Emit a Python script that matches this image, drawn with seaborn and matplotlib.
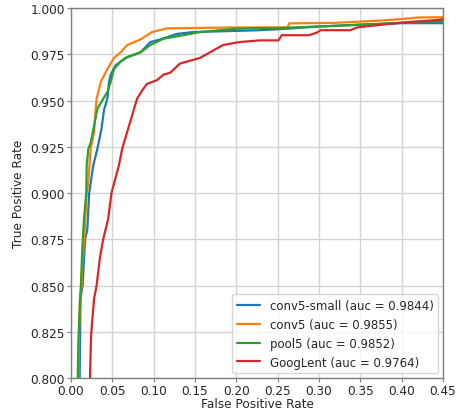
import matplotlib
matplotlib.use("Agg")
import matplotlib.pyplot as plt
import seaborn as sns

# ---- data ----
labels = ["conv5-small (auc = 0.9844)", "conv5 (auc = 0.9855)",
          "pool5 (auc = 0.9852)", "GoogLent (auc = 0.9764)"]

fpr_small = [0.0095, 0.0105, 0.0115, 0.0141, 0.017, 0.0197, 0.022, 0.027, 0.032, 0.037,
             0.040, 0.044, 0.046, 0.048, 0.054, 0.066, 0.084, 0.096, 0.108, 0.128,
             0.148, 0.228, 0.25, 0.30, 0.35, 0.40, 0.45]
tpr_small = [0.78, 0.80, 0.843, 0.85, 0.875, 0.88, 0.90, 0.915, 0.924, 0.935,
             0.945, 0.951, 0.96, 0.964, 0.969, 0.973, 0.976, 0.9816, 0.983, 0.986,
             0.987, 0.988, 0.9885, 0.990, 0.991, 0.9918, 0.9918]

fpr_conv5 = [0.008, 0.0089, 0.0097, 0.011, 0.013, 0.0135, 0.0165, 0.019, 0.0206, 0.0238,
             0.028, 0.030, 0.031, 0.036, 0.044, 0.052, 0.060, 0.068, 0.084, 0.098,
             0.116, 0.15, 0.2, 0.262, 0.264, 0.32, 0.37, 0.40, 0.42, 0.45]
tpr_conv5 = [0.78, 0.80, 0.825, 0.843, 0.85, 0.86, 0.879, 0.9, 0.904, 0.924,
             0.933, 0.946, 0.951, 0.96, 0.967, 0.973, 0.976, 0.98, 0.983, 0.987,
             0.989, 0.9892, 0.9895, 0.9895, 0.9917, 0.992, 0.9931, 0.994, 0.9949, 0.995]

fpr_pool5 = [0.007, 0.0081, 0.009, 0.011, 0.012, 0.0137, 0.0157, 0.0185, 0.019, 0.021,
             0.024, 0.032, 0.044, 0.048, 0.052, 0.060, 0.068, 0.084, 0.096, 0.112,
             0.132, 0.156, 0.18, 0.2, 0.228, 0.25, 0.30, 0.35, 0.40, 0.45]
tpr_pool5 = [0.78, 0.80, 0.82, 0.843, 0.85, 0.87, 0.886, 0.90, 0.915, 0.9238,
             0.9276, 0.9456, 0.9546, 0.96, 0.967, 0.971, 0.9735, 0.976, 0.98, 0.9834,
             0.985, 0.987, 0.988, 0.9888, 0.9892, 0.9892, 0.990, 0.991, 0.992, 0.993]

fpr_goog = [0.022, 0.023, 0.0242, 0.0253, 0.028, 0.031, 0.035, 0.039, 0.045, 0.049,
            0.052, 0.058, 0.062, 0.068, 0.074, 0.080, 0.087, 0.092, 0.104, 0.112,
            0.12, 0.132, 0.148, 0.156, 0.168, 0.184, 0.204, 0.228, 0.251, 0.255,
            0.288, 0.298, 0.302, 0.338, 0.346, 0.366, 0.387, 0.411, 0.443, 0.45]
tpr_goog = [0.78, 0.80, 0.8216, 0.829, 0.843, 0.85, 0.865, 0.875, 0.886, 0.90,
            0.905, 0.915, 0.924, 0.933, 0.942, 0.951, 0.956, 0.959, 0.961, 0.964,
            0.965, 0.970, 0.972, 0.973, 0.976, 0.98, 0.9816, 0.9825, 0.9825, 0.9853,
            0.9853, 0.9868, 0.988, 0.988, 0.9895, 0.9905, 0.9915, 0.9925, 0.9935, 0.994]

series = [(fpr_small, tpr_small), (fpr_conv5, tpr_conv5),
          (fpr_pool5, tpr_pool5), (fpr_goog, tpr_goog)]
colors = sns.color_palette("tab10", 4)

sns.set_style("whitegrid", {
    "axes.edgecolor": "0.5",
    "grid.color": "0.83",
    "xtick.bottom": True,
    "ytick.left": True,
    "xtick.color": "0.15",
    "ytick.color": "0.15",
})
plt.rcParams["font.family"] = ["DejaVu Sans"]
FS = 8.7
plt.rcParams["font.size"] = FS

fig = plt.figure(figsize=(4.58, 4.10), dpi=100)
ax = fig.add_axes([0.155, 0.0756, 0.812, 0.9024])

for (x, y), lab, c in zip(series, labels, colors):
    sns.lineplot(x=x, y=y, sort=False, estimator=None, ax=ax, color=c,
                 linewidth=1.6, label=lab)

ax.set_xlim(0.0, 0.45)
ax.set_ylim(0.8, 1.0)
ax.set_xticks([0.0, 0.05, 0.10, 0.15, 0.20, 0.25, 0.30, 0.35, 0.40, 0.45])
ax.set_xticklabels(["0.00", "0.05", "0.10", "0.15", "0.20", "0.25", "0.30", "0.35", "0.40", "0.45"])
ax.set_yticks([0.8, 0.825, 0.85, 0.875, 0.9, 0.925, 0.95, 0.975, 1.0])
ax.set_yticklabels(["0.800", "0.825", "0.850", "0.875", "0.900", "0.925", "0.950", "0.975", "1.000"])
ax.tick_params(axis="both", length=3, width=0.8, color="0.5", labelsize=FS, pad=1.5)
ax.grid(True, linewidth=1.0)
for s in ax.spines.values():
    s.set_color("0.5")
    s.set_linewidth(1.0)
ax.set_xlabel("False Positive Rate", fontsize=FS, labelpad=0)
ax.set_ylabel("True Positive Rate", fontsize=FS, labelpad=4)
leg = ax.legend(loc="lower right", fontsize=8.5, frameon=True, fancybox=True,
                framealpha=0.8, edgecolor="0.8", borderaxespad=0.4)

fig.savefig("out.png", dpi=100)
